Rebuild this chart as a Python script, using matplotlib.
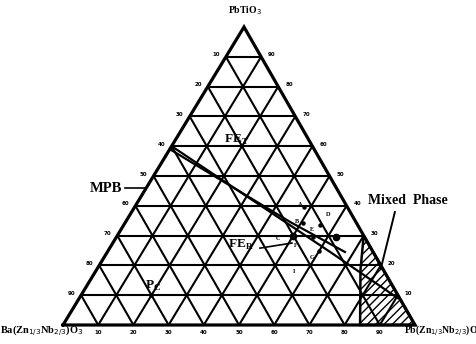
import matplotlib
matplotlib.use("Agg")
import matplotlib.pyplot as plt
from matplotlib.patches import Polygon
import numpy as np

# ---- data (ternary compositions: PZN %, PT %) ----
grid_levels = [10, 20, 30, 40, 50, 60, 70, 80, 90]
left_labels = ["10", "20", "30", "40", "50", "60", "70", "80", "90"]     # BZN %, top to bottom
bottom_labels = ["10", "20", "30", "40", "50", "60", "70", "80", "90"]   # PZN %
right_labels = ["10", "20", "30", "40", "50", "60", "70", "80", "90"]    # PT %

mpb1_pzn = [0, 63.3, 90.5]
mpb1_pt = [60, 24.5, 9.0]
mpb2_pzn = [0, 46.7, 67.5]
mpb2_pt = [59, 34.6, 24.5]

big_dot_pzn = [50.0, 62.5]
big_dot_pt = [30.0, 29.5]
small_dot_pzn = [48.0, 50.6, 55.7, 55.9, 60.0, 20.0]
small_dot_pt = [39.6, 34.2, 33.6, 29.5, 25.0, 10.0]

letters = ["A", "B", "C", "D", "E", "F", "G", "I"]
letter_pzn = [46.8, 48.6, 46.3, 56.2, 54.1, 52.4, 59.2, 56.6]
letter_pt = [40.3, 34.6, 28.9, 37.2, 32.2, 26.8, 22.5, 17.8]

hatch_pzn = [70.0, 75.0, 84.4, 100.0]
hatch_pt = [30.0, 18.5, 0.0, 0.0]

fer_ptr_pzn = [42.7, 50.9]
fer_ptr_pt = [25.8, 27.5]
mixed_ptr_pzn = [74.8, 80.5]
mixed_ptr_pt = [37.9, 19.1]

# ---- layout ----
A = np.array([63.0, 325.0])   # Ba(Zn1/3Nb2/3)O3 corner
B = np.array([415.0, 325.0])  # Pb(Zn1/3Nb2/3)O3 corner
C = np.array([244.0, 27.0])   # PbTiO3 corner


def tern(pzn, pt):
    pzn = np.asarray(pzn, dtype=float) / 100.0
    pt = np.asarray(pt, dtype=float) / 100.0
    x = A[0] + pzn * (B[0] - A[0]) + pt * (C[0] - A[0])
    y = A[1] + pzn * (B[1] - A[1]) + pt * (C[1] - A[1])
    return x, y


fig = plt.figure(figsize=(4.77, 3.44), dpi=100)
ax = fig.add_axes([0, 0, 1, 1])
ax.set_xlim(0, 477)
ax.set_ylim(344, 0)
ax.axis("off")

lw_grid = 1.5
# grid lines
for k in grid_levels:
    x, y = tern([0, 100 - k], [k, k])
    ax.plot(x, y, color="black", lw=lw_grid, solid_capstyle="butt")
    x, y = tern([k, k], [0, 100 - k])
    ax.plot(x, y, color="black", lw=lw_grid, solid_capstyle="butt")
    x, y = tern([100 - k, 0], [0, 100 - k])
    ax.plot(x, y, color="black", lw=lw_grid, solid_capstyle="butt")

# outer triangle
x, y = tern([0, 100, 0, 0], [0, 0, 100, 0])
ax.plot(x, y, color="black", lw=2.3, solid_joinstyle="miter")

# hatched mixed phase region
hx, hy = tern(hatch_pzn, hatch_pt)
poly = Polygon(np.column_stack([hx, hy]), closed=True, facecolor="none",
               edgecolor="black", hatch="////", lw=1.8)
ax.add_patch(poly)

# MPB lines
x, y = tern(mpb1_pzn, mpb1_pt)
ax.plot(x, y, color="black", lw=1.6)
x, y = tern(mpb2_pzn, mpb2_pt)
ax.plot(x, y, color="black", lw=1.6)

# dots
x, y = tern(big_dot_pzn, big_dot_pt)
ax.plot(x, y, "o", color="black", ms=4.5)
x, y = tern(small_dot_pzn, small_dot_pt)
ax.plot(x, y, "o", color="black", ms=2.2)

# letters
lx, ly = tern(letter_pzn, letter_pt)
for t, xx, yy in zip(letters, lx, ly):
    ax.text(xx, yy, t, fontsize=4.5, fontweight="bold", ha="center", va="center",
            family="Liberation Serif")

# pointers
x, y = tern(fer_ptr_pzn, fer_ptr_pt)
ax.plot(x, y, color="black", lw=1.2)
x, y = tern(mixed_ptr_pzn, mixed_ptr_pt)
ax.plot(x, y, color="black", lw=1.4)
ex, ey = tern(0, 46)
ax.plot([125, float(ex)], [float(ey), float(ey)], color="black", lw=1.2)

# tick labels
tfs = 4
for k, lab in zip(grid_levels, left_labels):
    x, y = tern(0, 100 - k)
    ax.text(x - 6, y - 2, lab, fontsize=tfs, fontweight="bold", ha="right", va="center")
for k, lab in zip(grid_levels, bottom_labels):
    x, y = tern(k, 0)
    ax.text(x, y + 8, lab, fontsize=tfs, fontweight="bold", ha="center", va="center")
for k, lab in zip(grid_levels, right_labels):
    x, y = tern(100 - k, k)
    ax.text(x + 7, y - 2, lab, fontsize=tfs, fontweight="bold", ha="left", va="center")

serif = "Liberation Serif"
ax.text(245, 11, "PbTiO$_3$", fontsize=7, fontweight="bold", ha="center", va="center",
        family=serif)
ax.text(0, 331, "Ba(Zn$_{1/3}$Nb$_{2/3}$)O$_3$", fontsize=7.5, fontweight="bold",
        ha="left", va="center", family=serif)
ax.text(404, 331, "Pb(Zn$_{1/3}$Nb$_{2/3}$)O", fontsize=7, fontweight="bold",
        ha="left", va="center", family=serif)

ax.text(224, 140, "FE$_\\mathregular{T}$", fontsize=9.5, fontweight="bold", ha="left",
        va="center", family=serif)
ax.text(228, 245, "FE$_\\mathregular{R}$", fontsize=9.5, fontweight="bold", ha="left",
        va="center", family=serif)
ax.text(145, 286, "P$_\\mathregular{C}$", fontsize=9.5, fontweight="bold", ha="left",
        va="center", family=serif)
ax.text(122, 188, "MPB", fontsize=10.5, fontweight="bold", ha="right", va="center",
        family=serif)
ax.text(368, 201, "Mixed  Phase", fontsize=10, fontweight="bold", ha="left",
        va="center", family=serif)

fig.savefig("out.png", dpi=100)
